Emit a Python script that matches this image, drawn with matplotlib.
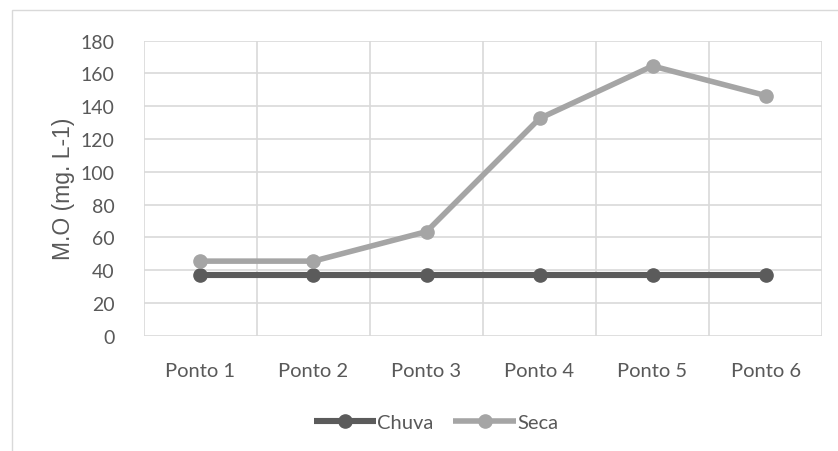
import matplotlib
matplotlib.use('Agg')
import matplotlib.pyplot as plt
from matplotlib.patches import Rectangle
import numpy as np

# data
pontos = ['Ponto 1', 'Ponto 2', 'Ponto 3', 'Ponto 4', 'Ponto 5', 'Ponto 6']
chuva = [37.2, 37.2, 37.2, 37.2, 37.2, 37.2]
seca = [45.5, 45.5, 63.5, 132.5, 164.5, 146.5]
y_ticks = [0, 20, 40, 60, 80, 100, 120, 140, 160, 180]

grid_col = '#D9D9D9'
text_col = '#595959'

fig = plt.figure(figsize=(8.38, 4.52), dpi=100)
ax = fig.add_axes([0.1718, 0.255, 0.8092, 0.653])

# outer chart frame
fig.patches.append(Rectangle((12 / 838, -0.1), 1.2, 1 - 11 / 452 + 0.1,
                             transform=fig.transFigure, fill=False,
                             edgecolor=grid_col, linewidth=1.0))

x = np.arange(len(pontos))
ax.plot(x, chuva, color='#5B5B5B', lw=4.4, marker='o', ms=9.5,
        label='Chuva', solid_capstyle='butt', zorder=3)
ax.plot(x, seca, color='#A5A5A5', lw=4.0, marker='o', ms=9.5,
        label='Seca', solid_capstyle='butt', zorder=3)

ax.set_xlim(-0.5, len(pontos) - 0.5)
ax.set_ylim(0, 180)
ax.set_yticks(y_ticks)
ax.set_xticks(x)
ax.set_xticklabels(pontos)

# vertical grid at category boundaries
for b in np.arange(-0.5, len(pontos), 1.0):
    ax.axvline(b, color=grid_col, lw=1.2, zorder=1)
for t in y_ticks:
    ax.axhline(t, color=grid_col, lw=1.2, zorder=1)

for s in ax.spines.values():
    s.set_visible(False)
ax.tick_params(length=0, labelsize=14.5, colors=text_col)
ax.tick_params(axis='x', labelsize=14.5, pad=19)
ax.tick_params(axis='y', labelsize=14, pad=21)
for lbl in ax.get_xticklabels() + ax.get_yticklabels():
    lbl.set_family('Lato')

ax.set_ylabel('M.O (mg. L-1)', fontsize=16.5, color=text_col,
              family='Liberation Sans')
ax.yaxis.set_label_coords(-0.101, 0.5)

fig.legend(loc='center', bbox_to_anchor=(0.52, 0.063), ncol=2, frameon=False,
           prop={'family': 'Lato', 'size': 14.5}, labelcolor=text_col,
           handlelength=3.1, handletextpad=0.05, columnspacing=1.0)

fig.savefig('out.png', dpi=100)
